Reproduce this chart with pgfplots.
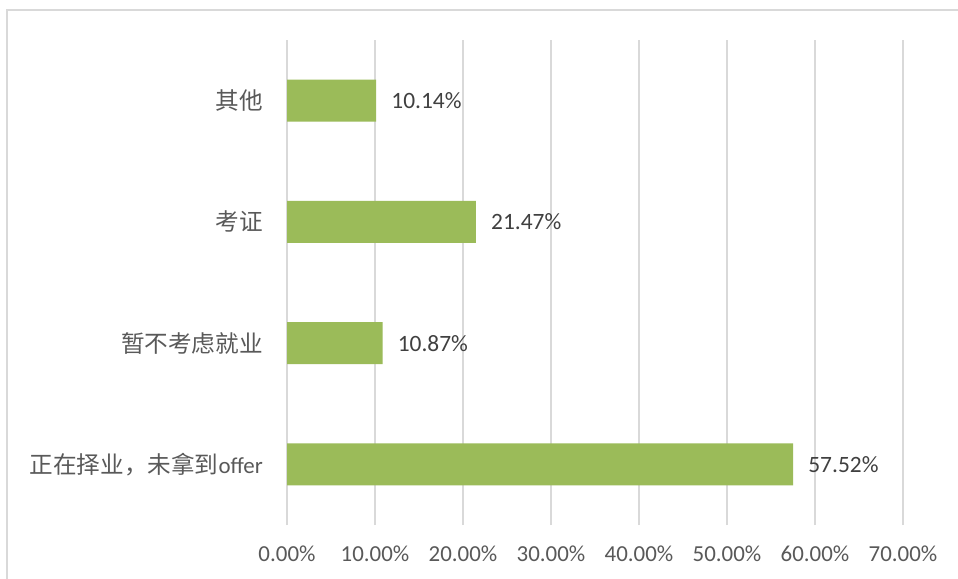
\documentclass[border=0pt]{standalone}
\usepackage{pgfplots}
\pgfplotsset{compat=1.18}
\usepackage{fontspec}
\setmainfont{Carlito}
\newfontfamily\cjk{Noto Sans CJK SC}
\newcommand\cj[1]{{\cjk\fontsize{23.7}{28}\selectfont #1}}
\definecolor{bargreen}{HTML}{9BBB59}
\definecolor{gridgray}{HTML}{D9D9D9}
\definecolor{labgray}{HTML}{595959}
\definecolor{valgray}{HTML}{404040}
\begin{document}
\begin{tikzpicture}
\path[use as bounding box] (0,0) rectangle (958bp,579bp);
\fill[white] (0,0) rectangle (958bp,579bp);
\draw[gridgray, line width=1.5bp] (7bp,0) -- (7bp,569bp) -- (958bp,569bp);
\begin{axis}[
  at={(287bp,54bp)}, anchor=south west,
  scale only axis, width=616bp, height=485bp,
  xbar, bar width=42bp,
  xmin=0, xmax=70, ymin=-0.5, ymax=3.5,
  xtick={0,10,...,70},
  xticklabels={0.00\%,10.00\%,20.00\%,30.00\%,40.00\%,50.00\%,60.00\%,70.00\%},
  ytick={0,1,2,3},
  yticklabels={\cj{正在择业，未拿到}offer,\cj{暂不考虑就业},\cj{考证},\cj{其他}},
  axis line style={draw=none},
  major tick length=0pt,
  xmajorgrids, grid style={gridgray, line width=1.5bp},
  font=\fontsize{23}{28}\selectfont,
  tick label style={labgray, inner sep=0pt},
  xticklabel style={anchor=north, yshift=-21bp},
  yticklabel style={anchor=east, xshift=-24bp},
  point meta=x,
  nodes near coords={\pgfmathprintnumber[fixed,fixed zerofill,precision=2,assume math mode=true]{\pgfplotspointmeta}\%},
  nodes near coords style={anchor=west, inner sep=0pt, xshift=15bp, valgray, font=\fontsize{23.5}{28}\selectfont},
]
\addplot[fill=bargreen, draw=none] coordinates {(57.52,0) (10.87,1) (21.47,2) (10.14,3)};
\end{axis}
\end{tikzpicture}
\end{document}
